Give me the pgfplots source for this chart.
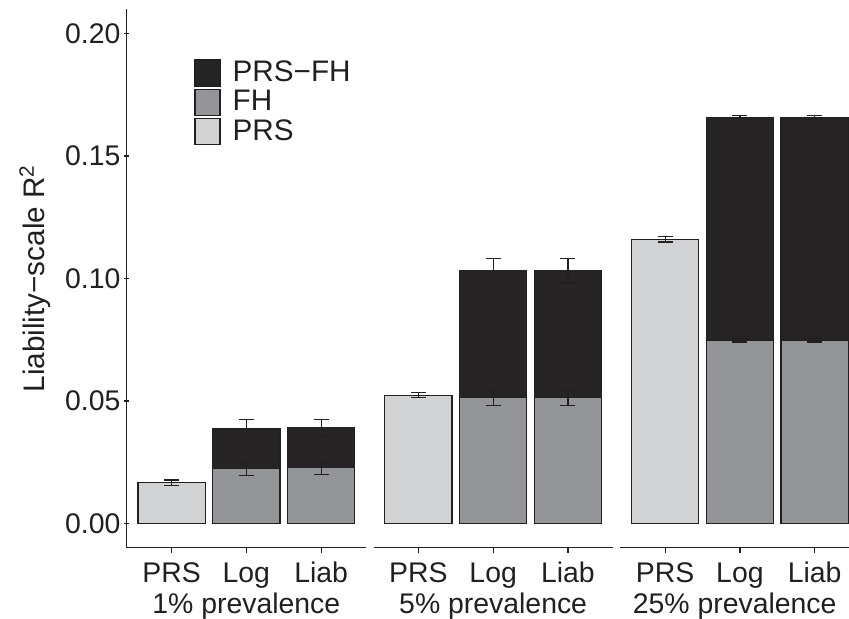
\documentclass[border=0pt]{standalone}
\usepackage{fontspec}
\setmainfont{Liberation Sans}
\usepackage{pgfplots}
\pgfplotsset{compat=1.18}

\definecolor{prscol}{HTML}{D1D2D4}
\definecolor{fhcol}{HTML}{939598}
\definecolor{bothcol}{HTML}{262425}
\definecolor{edge}{HTML}{231F20}

\pgfplotsset{
  legendbox/.style={/pgfplots/legend image code/.code={%
      \draw[##1, line width=0.6pt] (0pt,-6.5pt) rectangle (12.5pt,6.5pt);}},
  bar/.style={ybar, bar width=0.9, bar shift=0pt, fill=#1, draw=edge,
    line width=0.6pt, legendbox,
    error bars/.cd, y dir=both, y explicit,
    error bar style={draw=edge, line width=0.6pt},
    error mark options={draw=edge, rotate=90, mark size=3.75pt, line width=0.6pt}},
  panel/.style={
    scale only axis, width=119.65pt, height=269.2pt,
    xmin=0.4, xmax=3.6, ymin=-0.0098, ymax=0.2098,
    axis x line=bottom,
    axis line style={-, draw=edge, line width=0.6pt},
    tick align=outside, major tick length=2.75pt,
    tick style={draw=edge, line width=0.6pt},
    xtick={1,2,3}, xticklabels={PRS,Log,Liab},
    tick label style={text=edge, font=\fontsize{14.2}{17}\selectfont},
    xticklabel style={inner sep=0pt, anchor=base, yshift=-14.9pt},
    xlabel style={at={(axis description cs:0.5,0)}, anchor=base,
      inner sep=0pt, yshift=-32.7pt, text=edge,
      font=\fontsize{14.2}{17}\selectfont},
    /pgf/number format/assume math mode=true,
  },
}

\begin{document}
\begin{tikzpicture}[font=\fontsize{14.2}{17}\selectfont]
\useasboundingbox (0,0) rectangle (424.5pt,309.5pt);

% 1% prevalence
\begin{axis}[panel, at={(63.35pt,35.65pt)},
  axis y line=left,
  axis line style={-},
  ytick={0,0.05,0.1,0.15,0.2},
  yticklabel style={inner sep=0pt, xshift=-1.6pt,
    /pgf/number format/fixed, /pgf/number format/fixed zerofill,
    /pgf/number format/precision=2},
  ylabel={Liability−scale R\textsuperscript{2}},
  ylabel style={at={(axis description cs:-0.3172,0.5)}, anchor=south,
    inner sep=0pt, text=edge, font=\fontsize{14.85}{18}\selectfont},
  xlabel={1\% prevalence},
  legend style={at={(axis cs:1.30,0.1895)}, anchor=north west,
    draw=none, fill=none, inner sep=0pt, row sep=1pt, column sep=6pt,
    nodes={inner sep=0pt}, text=edge, font=\fontsize{14.85}{18}\selectfont},
  legend cell align=left,
]
\addplot[bar=bothcol] coordinates {(2,0.0387) +- (0,0.0038) (3,0.0391) +- (0,0.0033)};
\addlegendentry{PRS−FH}
\addplot[bar=fhcol] coordinates {(2,0.0225) +- (0,0.0029) (3,0.0228) +- (0,0.0027)};
\addlegendentry{FH}
\addplot[bar=prscol] coordinates {(1,0.0167) +- (0,0.0011)};
\addlegendentry{PRS}
\end{axis}

% 5% prevalence
\begin{axis}[panel, at={(186.75pt,35.65pt)},
  axis y line=none, ytick=\empty,
  xlabel={5\% prevalence},
]
\addplot[bar=bothcol] coordinates {(2,0.1031) +- (0,0.0051) (3,0.1031) +- (0,0.0049)};
\addplot[bar=fhcol] coordinates {(2,0.0514) +- (0,0.0033) (3,0.0514) +- (0,0.0033)};
\addplot[bar=prscol] coordinates {(1,0.0524) +- (0,0.0011)};
\end{axis}

% 25% prevalence
\begin{axis}[panel, at={(310.15pt,35.65pt)},
  width=114.35pt, xmax=3.459,
  axis y line=none, ytick=\empty,
  xlabel={25\% prevalence},
]
\addplot[bar=bothcol] coordinates {(2,0.1658) +- (0,0.0006) (3,0.1658) +- (0,0.0006)};
\addplot[bar=fhcol] coordinates {(2,0.0749) +- (0,0.0008) (3,0.0749) +- (0,0.0008)};
\addplot[bar=prscol] coordinates {(1,0.1160) +- (0,0.0011)};
\end{axis}
\end{tikzpicture}
\end{document}
